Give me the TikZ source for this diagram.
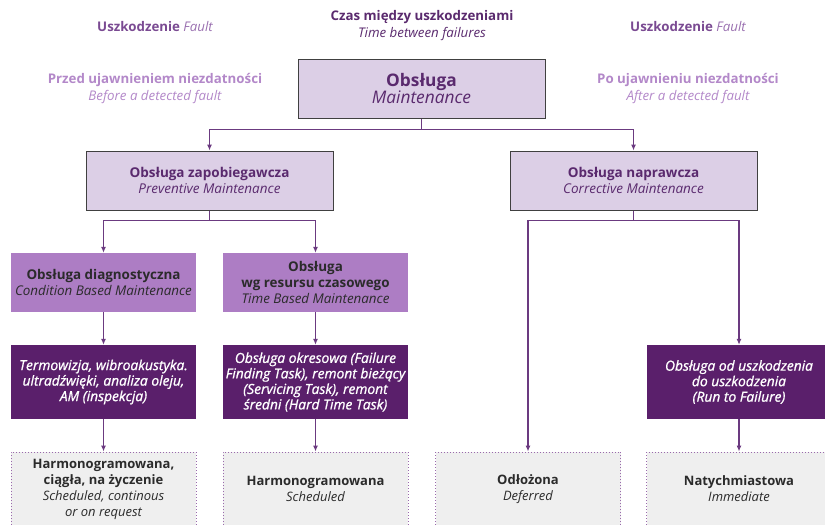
\documentclass[tikz,border=0pt]{standalone}
\usepackage{fontspec}
\setmainfont{Open Sans}
\usetikzlibrary{arrows.meta}

\definecolor{lavfill}{HTML}{DCCFE6}
\definecolor{midfill}{HTML}{AD7DC4}
\definecolor{darkfill}{HTML}{5A1F6B}
\definecolor{endfill}{HTML}{EFEFEF}
\definecolor{linecol}{HTML}{6B3A80}
\definecolor{dotcol}{HTML}{9A6AAC}
\definecolor{titlecol}{HTML}{5A2A6E}
\definecolor{faultcol}{HTML}{7A4A92}
\definecolor{faultit}{HTML}{9A70B0}
\definecolor{lightlbl}{HTML}{B388C9}
\definecolor{textdark}{HTML}{2B2B2B}

\tikzset{
  lavbox/.style={draw=black!75,line width=1pt,fill=lavfill,minimum width=247pt,
    minimum height=59pt,align=center,text=titlecol},
  midbox/.style={fill=midfill,minimum width=185pt,minimum height=59pt,
    align=center,text=textdark,inner sep=1pt},
  darkbox/.style={fill=darkfill,minimum width=185pt,minimum height=74pt,
    align=center,text=white,inner sep=1pt,
    font=\fontsize{13.8}{15.5}\selectfont\itshape\addfontfeature{FakeBold=1}},
  endbox/.style={fill=endfill,draw=dotcol,line width=1pt,dash pattern=on 1pt off 2pt,
    minimum width=185pt,minimum height=74pt,align=center,text=textdark,
    font=\fontsize{13}{16}\selectfont},
  toplbl/.style={align=center,font=\fontsize{13.3}{17}\selectfont},
  conn/.style={draw=linecol,line width=1.1pt,-{Latex[length=6pt,width=5pt]}}
}

\begin{document}
\begin{tikzpicture}[x=1pt,y=-1pt]
  \useasboundingbox (0,0) rectangle (825,525);
  \clip (0,0) rectangle (825,525);

  % Labels above the tree
  \node[toplbl] (fault-l) at (155,27) {\textcolor{faultcol}{\bfseries Uszkodzenie} \textcolor{faultit}{\itshape Fault}};
  \node[toplbl] (between) at (422,25.5) {\textcolor{titlecol}{\bfseries Czas między uszkodzeniami}\\\textcolor{titlecol}{\itshape Time between failures}};
  \node[toplbl] (fault-r) at (688,27) {\textcolor{faultcol}{\bfseries Uszkodzenie} \textcolor{faultit}{\itshape Fault}};
  \node[toplbl,text=lightlbl] (before) at (155,88.5) {{\bfseries Przed ujawnieniem niezdatności}\\{\itshape Before a detected fault}};
  \node[toplbl,text=lightlbl] (after) at (688,88.5) {{\bfseries Po ujawnieniu niezdatności}\\{\itshape After a detected fault}};

  % Root
  \node[lavbox] (main) at (421.5,88.5)
    {{\fontsize{17.3}{21}\selectfont\bfseries Obsługa}\\{\fontsize{17.3}{21}\selectfont\itshape Maintenance}};

  % Second level
  \node[lavbox,font=\fontsize{13.5}{16}\selectfont] (prev) at (209.5,180.5)
    {{\bfseries Obsługa zapobiegawcza}\\{\itshape Preventive Maintenance}};
  \node[lavbox,font=\fontsize{13.5}{16}\selectfont] (corr) at (633.5,180.5)
    {{\bfseries Obsługa naprawcza}\\{\itshape Corrective Maintenance}};

  % Third level
  \node[midbox,font=\fontsize{13.4}{16}\selectfont] (cbm) at (103.5,282.5)
    {{\bfseries Obsługa diagnostyczna}\\{\itshape Condition Based Maintenance}};
  \node[midbox,font=\fontsize{13.4}{16}\selectfont] (tbm) at (315.5,282.5)
    {{\bfseries Obsługa}\\{\bfseries wg resursu czasowego}\\{\itshape Time Based Maintenance}};

  % Tasks
  \node[darkbox] (cbm-task) at (103.5,382)
    {Termowizja, wibroakustyka.\\ultradźwięki, analiza oleju,\\AM (inspekcja)};
  \node[darkbox] (tbm-task) at (315.5,382)
    {Obsługa okresowa (Failure\\Finding Task), remont bieżący\\(Servicing Task), remont\\średni (Hard Time Task)};
  \node[darkbox] (rtf) at (739,382)
    {Obsługa od uszkodzenia\\do uszkodzenia\\(Run to Failure)};

  % Execution mode
  \node[endbox] (sched-cont) at (103.5,489)
    {{\bfseries Harmonogramowana,}\\{\bfseries ciągła, na życzenie}\\{\itshape Scheduled, continous}\\{\itshape or on request}};
  \node[endbox] (sched) at (315.5,489)
    {{\bfseries Harmonogramowana}\\{\itshape Scheduled}};
  \node[endbox] (deferred) at (528,489)
    {{\bfseries Odłożona}\\{\itshape Deferred}};
  \node[endbox] (immediate) at (739,489)
    {{\bfseries Natychmiastowa}\\{\itshape Immediate}};

  % Connectors
  \draw[conn] (main.south) -- ++(0,11) -| (prev.north);
  \draw[conn] (main.south) -- ++(0,11) -| (corr.north);
  \draw[conn] (prev.south) -- ++(0,10) -| (cbm.north);
  \draw[conn] (prev.south) -- ++(0,10) -| (tbm.north);
  \draw[conn] (corr.south) -- ++(0,10) -| (deferred.north);
  \draw[conn] (corr.south) -- ++(0,10) -| (rtf.north);
  \draw[conn] (cbm.south) -- (cbm-task.north);
  \draw[conn] (tbm.south) -- (tbm-task.north);
  \draw[conn] (cbm-task.south) -- (sched-cont.north);
  \draw[conn] (tbm-task.south) -- (sched.north);
  \draw[conn] (rtf.south) -- (immediate.north);
\end{tikzpicture}
\end{document}
